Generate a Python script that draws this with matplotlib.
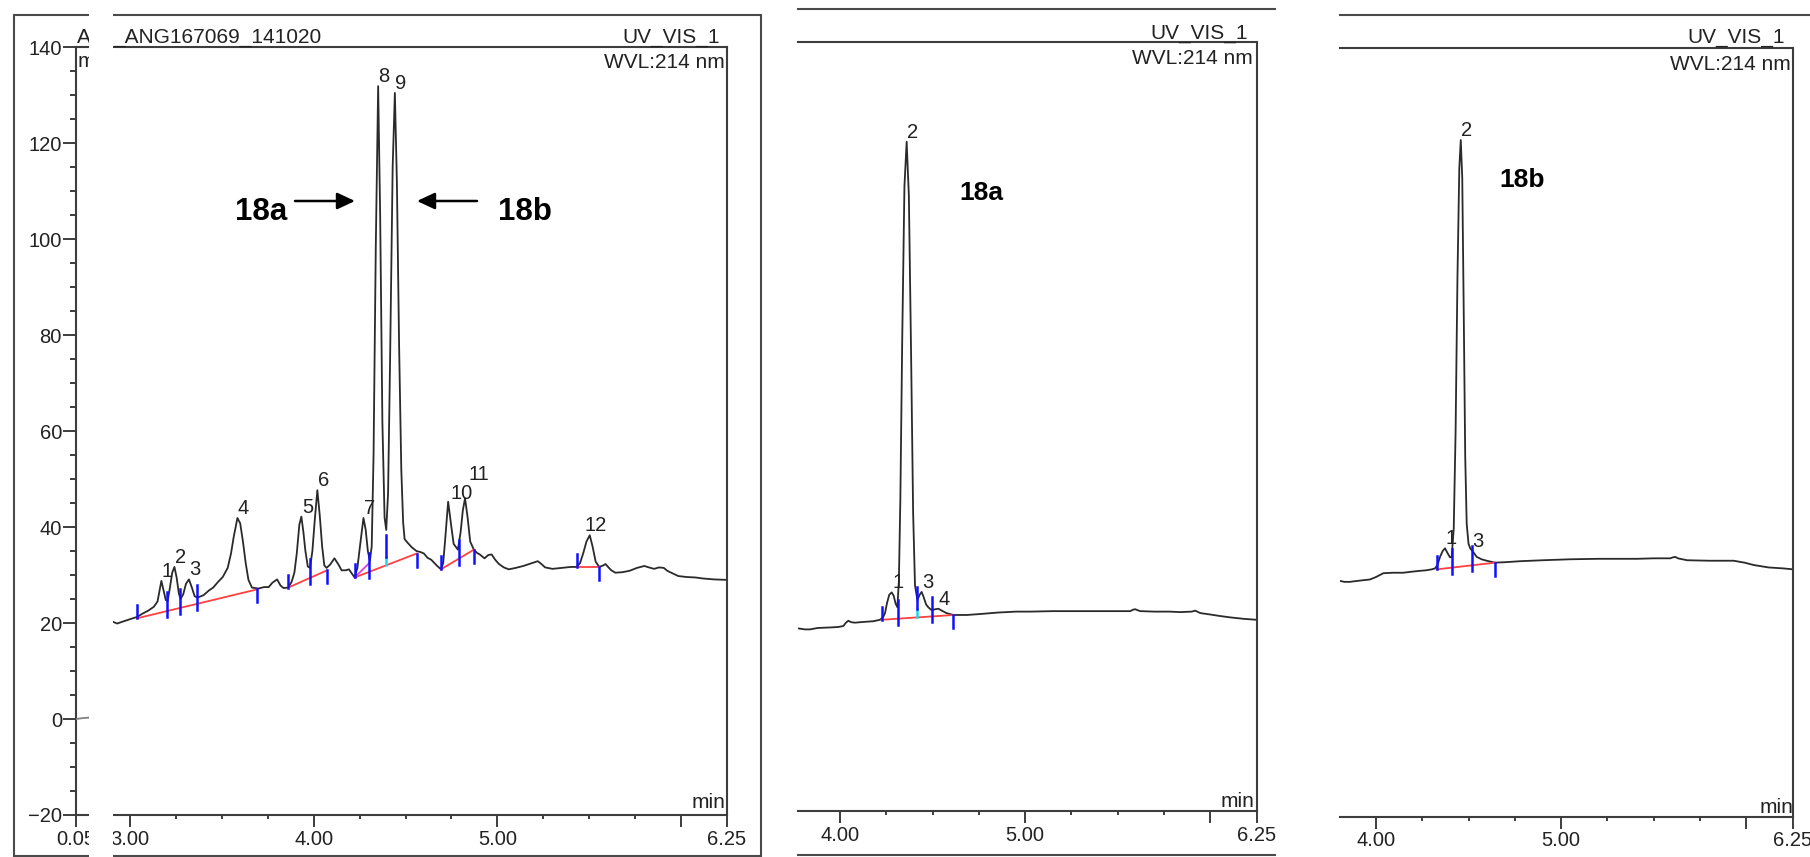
import numpy as np
import matplotlib
matplotlib.use("Agg")
import matplotlib.pyplot as plt
from matplotlib.patches import Rectangle
from matplotlib.lines import Line2D
from matplotlib.transforms import Bbox, TransformedBbox

plt.rcParams['font.family'] = ['Liberation Sans', 'DejaVu Sans']

# ---------------- data ----------------
# Mixture run (18a + 18b), retention time [min] vs absorbance [mAU]
mix_t = [2.906, 2.93, 2.96, 3.00, 3.04, 3.07, 3.10, 3.13, 3.15, 3.160, 3.171, 3.183, 3.195,
         3.205, 3.218, 3.230, 3.242, 3.254, 3.266, 3.275, 3.290, 3.305, 3.321, 3.337, 3.352,
         3.367, 3.40, 3.43, 3.453, 3.48, 3.505, 3.532, 3.55, 3.565, 3.585, 3.60, 3.615, 3.630,
         3.645, 3.664, 3.70, 3.730, 3.755, 3.775, 3.801, 3.820, 3.836, 3.862, 3.880, 3.895,
         3.908, 3.922, 3.933, 3.944, 3.955, 3.968, 3.980, 3.993, 4.005, 4.020, 4.033, 4.046,
         4.058, 4.070, 4.090, 4.113, 4.135, 4.152, 4.175, 4.192, 4.210, 4.223, 4.238, 4.252,
         4.271, 4.283, 4.295, 4.306, 4.316, 4.326, 4.338, 4.351, 4.362, 4.374, 4.386, 4.395,
         4.405, 4.416, 4.430, 4.442, 4.453, 4.465, 4.477, 4.487, 4.495, 4.51, 4.534, 4.56,
         4.582, 4.60, 4.62, 4.64, 4.67, 4.693, 4.705, 4.715, 4.732, 4.748, 4.762, 4.785,
         4.800, 4.812, 4.824, 4.838, 4.852, 4.872, 4.89, 4.904, 4.93, 4.951, 4.969, 4.988,
         5.009, 5.035, 5.062, 5.10, 5.141, 5.18, 5.22, 5.24, 5.26, 5.30, 5.353, 5.40, 5.431,
         5.45, 5.467, 5.485, 5.503, 5.518, 5.535, 5.555, 5.575, 5.589, 5.605, 5.62, 5.642,
         5.68, 5.72, 5.76, 5.80, 5.825, 5.853, 5.88, 5.906, 5.925, 5.946, 5.985, 6.03, 6.08,
         6.117, 6.18, 6.25]
mix_v = [20.3, 19.9, 20.3, 20.8, 21.3, 22.0, 22.6, 23.4, 24.5, 26.5, 28.8, 26.8, 24.8,
         24.6, 27.5, 30.5, 31.7, 29.5, 26.2, 25.0, 26.0, 28.2, 29.1, 27.4, 25.6,
         25.3, 25.8, 26.8, 27.4, 28.6, 29.6, 31.5, 34.5, 38.0, 41.9, 40.8, 37.0, 32.5,
         29.0, 27.4, 27.2, 27.5, 27.5, 28.4, 29.1, 27.8, 27.3, 27.4, 28.6, 30.5,
         34.5, 40.5, 42.2, 39.0, 35.0, 31.8, 31.5, 35.0, 41.0, 47.7, 42.5, 36.0,
         32.0, 31.5, 32.2, 33.5, 32.2, 31.0, 31.0, 31.2, 30.2, 29.5, 31.5, 36.0,
         41.9, 39.5, 35.0, 33.0, 36.0, 55.0, 98.0, 131.9, 105.0, 62.0, 42.0, 39.4,
         47.0, 75.0, 115.0, 130.5, 112.0, 78.0, 52.0, 41.0, 37.5, 36.8, 35.8, 35.0,
         34.8, 34.5, 33.6, 33.2, 32.0, 31.2, 32.5, 37.0, 45.3, 40.5, 36.5, 35.3,
         39.0, 43.5, 46.0, 42.0, 37.0, 35.3, 34.6, 34.3, 33.5, 34.2, 34.3, 33.2,
         32.3, 31.6, 31.2, 31.5, 31.9, 32.4, 32.9, 32.3, 31.6, 31.3, 31.5, 31.7, 31.7,
         32.5, 34.5, 37.0, 38.3, 36.0, 32.8, 31.7, 32.0, 32.3, 31.6, 31.0, 30.5,
         30.6, 30.9, 31.5, 31.9, 31.6, 31.3, 31.6, 31.5, 30.9, 30.5, 29.8, 29.6, 29.5,
         29.3, 29.1, 29.0]
# start of the same run, before the cut in the time axis
mix_start_t = [0.05, 0.12, 0.18]
mix_start_v = [0.0, 0.2, 0.3]
mix_peak_t = [3.171, 3.242, 3.321, 3.585, 3.933, 4.020, 4.271, 4.351, 4.442, 4.732, 4.824, 5.503]
mix_peak_no = ['1', '2', '3', '4', '5', '6', '7', '8', '9', '10', '11', '12']
mix_base_t = [[3.039, 3.203, 3.275, 3.367, 3.690],
              [3.862, 3.980, 4.073],
              [4.223, 4.302, 4.395, 4.561],
              [4.693, 4.789, 4.872],
              [5.431, 5.555]]
mix_base_v = [[21.0, 27.0], [27.4, 31.0], [29.5, 34.5], [31.2, 35.3], [31.7, 31.7]]
mix_sub_base = [4.223, 29.5, 4.302, 32.5]
mix_split_t = [4.395]

# Isolated 18a
a_t = [3.775, 3.81, 3.838, 3.88, 3.946, 3.99, 4.018, 4.032, 4.045, 4.060, 4.081, 4.11,
       4.144, 4.18, 4.216, 4.232, 4.243, 4.254, 4.266, 4.279, 4.290, 4.300, 4.310, 4.318,
       4.326, 4.336, 4.348, 4.360, 4.372, 4.384, 4.395, 4.405, 4.418, 4.430, 4.441, 4.452,
       4.465, 4.477, 4.495, 4.515, 4.532, 4.55, 4.575, 4.613, 4.685, 4.757, 4.85, 4.95,
       5.027, 5.15, 5.297, 5.40, 5.477, 5.568, 5.583, 5.595, 5.607, 5.622, 5.70, 5.78,
       5.838, 5.90, 5.919, 5.946, 6.00, 6.05, 6.108, 6.18, 6.25]
a_v = [18.0, 17.8, 17.8, 18.1, 18.2, 18.3, 18.5, 19.2, 19.6, 19.3, 19.2, 19.3,
       19.4, 19.5, 19.8, 20.3, 21.2, 23.3, 25.0, 25.5, 24.8, 23.2, 22.4, 28.0,
       45.0, 78.0, 110.0, 119.3, 108.0, 75.0, 42.0, 27.0, 23.9, 25.0, 25.6, 24.5,
       23.0, 22.4, 21.8, 22.0, 22.1, 21.7, 21.2, 20.8, 20.8, 21.0, 21.3, 21.5,
       21.5, 21.6, 21.6, 21.6, 21.6, 21.6, 21.9, 22.0, 21.8, 21.6, 21.5, 21.5,
       21.4, 21.5, 21.7, 21.2, 20.9, 20.6, 20.3, 20.0, 19.8]
a_peak_t = [4.279, 4.360, 4.441, 4.532]
a_peak_no = ['1', '2', '3', '4']
a_base_t = [[4.225, 4.315, 4.418, 4.496, 4.613]]
a_base_v = [[19.8, 20.8]]
a_split_t = [4.418]

# Isolated 18b
b_t = [3.805, 3.83, 3.859, 3.90, 3.968, 4.00, 4.040, 4.09, 4.148, 4.19, 4.238, 4.27,
       4.301, 4.319, 4.333, 4.346, 4.360, 4.373, 4.385, 4.400, 4.409, 4.420, 4.430, 4.440,
       4.450, 4.458, 4.466, 4.474, 4.482, 4.490, 4.500, 4.510, 4.520, 4.544, 4.570, 4.598,
       4.643, 4.70, 4.778, 4.90, 5.049, 5.20, 5.409, 5.50, 5.589, 5.603, 5.616, 5.630,
       5.68, 5.80, 5.931, 5.99, 6.04, 6.12, 6.20, 6.253]
b_v = [29.1, 28.9, 28.9, 29.1, 29.4, 29.9, 30.7, 30.8, 30.8, 31.0, 31.2, 31.3,
       31.5, 31.7, 32.5, 34.1, 35.3, 35.9, 35.0, 34.0, 34.1, 40.0, 60.0, 92.0,
       115.0, 120.9, 113.0, 85.0, 55.0, 41.0, 36.8, 35.8, 35.4, 34.1, 33.6, 33.3,
       32.9, 33.0, 33.2, 33.4, 33.6, 33.7, 33.7, 33.8, 33.8, 34.0, 34.1, 33.8,
       33.4, 33.3, 33.3, 32.9, 32.4, 31.9, 31.7, 31.5]
b_peak_t = [4.373, 4.458, 4.520]
b_peak_no = ['1', '2', '3']
b_base_t = [[4.328, 4.413, 4.521, 4.643]]
b_base_v = [[31.5, 32.9]]

y_ticks = [-20, 0, 20, 40, 60, 80, 100, 120, 140]

# ---------------- drawing ----------------
W, H, DPI = 1810, 857, 100
fig = plt.figure(figsize=(W / DPI, H / DPI), dpi=DPI)
fig.patch.set_facecolor('white')

TRACE = '#2a2a2a'
FRAME = '#3d3d3d'
RED = '#ff4040'
BLUE = '#1010ff'
CYAN = '#20d8e8'
MAGENTA = '#e040e0'
TXT = '#222222'
FS = 14.5


def rect(x0, y0, x1, y1):
    return [x0 / W, 1 - y1 / H, (x1 - x0) / W, (y1 - y0) / H]


def fx(x):
    return x / W


def fy(y):
    return 1 - y / H


def style(ax, left, majors, labels, minors):
    ax.set_ylim(-20, 140)
    for side in ('top', 'right', 'bottom', 'left'):
        ax.spines[side].set_color(FRAME)
        ax.spines[side].set_linewidth(1.5)
    ax.spines['left'].set_visible(left)
    ax.set_xticks(majors)
    ax.set_xticklabels(labels)
    ax.set_xticks(minors, minor=True)
    ax.tick_params(axis='x', which='major', direction='out', length=8.6, width=1.4,
                   pad=2.0, labelsize=FS, color=FRAME, labelcolor=TXT)
    ax.tick_params(axis='x', which='minor', direction='out', length=3.2, width=1.4,
                   color=FRAME)
    if left:
        ax.set_yticks(y_ticks)
        ax.set_yticks([v for v in range(-20, 141, 5) if v % 20], minor=True)
        ax.tick_params(axis='y', which='major', direction='out', length=9.1, width=1.4,
                       pad=0.8, labelsize=FS, color=FRAME, labelcolor=TXT)
        ax.tick_params(axis='y', which='minor', direction='out', length=4.1, width=1.4,
                       color=FRAME)
    else:
        ax.tick_params(axis='y', which='both', left=False, labelleft=False)


def integration(ax, seg_t, seg_v, split_t=(), sub=None):
    ppu = ax.bbox.height / 160.0
    for ts, (va, vb) in zip(seg_t, seg_v):
        t0, t1 = ts[0], ts[-1]
        ax.plot([t0, t1], [va, vb], color=RED, lw=1.3, zorder=3)
        for i, t in enumerate(ts):
            b = va + (vb - va) * (t - t0) / (t1 - t0)
            if any(abs(t - s) < 1e-9 for s in split_t):
                ax.plot([t, t], [b, b + 8 / ppu], color=CYAN, lw=1.8, zorder=4)
                ax.plot([t, t], [b + 8 / ppu, b + 30 / ppu], color=BLUE, lw=1.8, zorder=4)
                continue
            if i == 0:
                lo, hi = 0, 13
            elif i == len(ts) - 1:
                lo, hi = -13, 0
            else:
                lo, hi = -6, 19
            ax.plot([t, t], [b + lo / ppu, b + hi / ppu], color=BLUE, lw=1.8, zorder=4)
    if sub is not None:
        ax.plot([sub[0], sub[2]], [sub[1], sub[3]], color=MAGENTA, lw=1.3, zorder=3)


def peak_labels(ax, tr_t, tr_v, pk_t, pk_no, offsets=None):
    offsets = offsets or {}
    for t, n in zip(pk_t, pk_no):
        v = np.interp(t, tr_t, tr_v)
        dx, dy = offsets.get(n, (6, 4))
        ax.annotate(n, xy=(t, v), xytext=(dx, dy), textcoords='offset pixels',
                    ha='center', va='baseline', fontsize=FS, color=TXT, zorder=5)


minor_steps = [4.25, 4.5, 4.75, 5.25, 5.5, 5.75]

# --- panel 1: mixture ---
ax1 = fig.add_axes(rect(75.7, 47.3, 727, 815))
ax1.set_xlim(2.7046, 6.25)
style(ax1, True, [3, 4, 5, 6, 6.25], ['3.00', '4.00', '5.00', '', '6.25'],
      [3.25, 3.5, 3.75] + minor_steps)
ax1.plot(mix_t, mix_v, color=TRACE, lw=1.3, zorder=2)
integration(ax1, mix_base_t, mix_base_v, mix_split_t, mix_sub_base)
peak_labels(ax1, mix_t, mix_v, mix_peak_t, mix_peak_no,
            {'10': (13, 3), '11': (14, 18)})

ax0 = fig.add_axes(rect(75.7, 47.3, 89, 815))
ax0.patch.set_visible(False)
ax0.set_xlim(0.05, 0.177)
ax0.set_ylim(-20, 140)
for side in ax0.spines.values():
    side.set_visible(False)
ax0.plot(mix_start_t, mix_start_v, color='#808080', lw=1.3)
ax0.set_xticks([0.05])
ax0.set_xticklabels(['0.05'])
ax0.tick_params(axis='x', direction='out', length=8.6, width=1.4, pad=2.0,
                labelsize=FS, color=FRAME, labelcolor=TXT)
ax0.tick_params(axis='y', left=False, labelleft=False)

fig.add_artist(Rectangle((fx(14), fy(856)), (761 - 14) / W, (856 - 15) / H, fill=False,
                         lw=1.5, ec='#4a4a4a', transform=fig.transFigure, zorder=1))

# header texts of the mixture panel; the part under the time-axis cut is hidden
cut_clip = TransformedBbox(Bbox([[0, 0], [89 / W, 1]]), fig.transFigure)
for x, y, s in [(77, 43, 'A'), (78, 67, 'mAU')]:
    t_ = fig.text(fx(x), fy(y), s, ha='left', va='baseline', fontsize=15, color=TXT, zorder=5)
    t_.set_clip_box(cut_clip)
    t_.set_clip_on(True)
fig.text(fx(113.3), fy(43), '_ANG167069_141020', ha='left', va='baseline', fontsize=15,
         color=TXT, zorder=5)
fig.text(fx(720), fy(43), 'UV_VIS_1', ha='right', va='baseline', fontsize=15, color=TXT)
fig.text(fx(725), fy(68), 'WVL:214 nm', ha='right', va='baseline', fontsize=15, color=TXT)
fig.text(fx(725), fy(808), 'min', ha='right', va='baseline', fontsize=15, color=TXT)
fig.add_artist(Rectangle((fx(89), 0), (112.7 - 89) / W, 1, fc='white', ec='none',
                         transform=fig.transFigure, zorder=10))

arrow = dict(arrowstyle='-|>,head_length=0.6,head_width=0.28', mutation_scale=18,
             lw=1.8, color='black', shrinkA=0, shrinkB=0)
ax1.annotate('', xy=(355, H - 201), xytext=(295, H - 201), xycoords='figure pixels',
             textcoords='figure pixels', arrowprops=arrow)
ax1.annotate('', xy=(417, H - 201), xytext=(477, H - 201), xycoords='figure pixels',
             textcoords='figure pixels', arrowprops=arrow)
fig.text(fx(261), fy(220), '18a', ha='center', va='baseline', fontsize=22.5,
         fontweight='bold', color='black')
fig.text(fx(525), fy(220), '18b', ha='center', va='baseline', fontsize=22.5,
         fontweight='bold', color='black')

# --- panel 2: 18a ---
ax2 = fig.add_axes(rect(798, 42.3, 1256.5, 811))
ax2.set_xlim(3.773, 6.25)
style(ax2, False, [4, 5, 6, 6.25], ['4.00', '5.00', '', '6.25'], minor_steps)
ax2.plot(a_t, a_v, color=TRACE, lw=1.3, zorder=2)
integration(ax2, a_base_t, a_base_v, a_split_t)
peak_labels(ax2, a_t, a_v, a_peak_t, a_peak_no)
fig.add_artist(Line2D([fx(798), fx(1275)], [fy(9.3)] * 2, color='#4a4a4a', lw=1.5,
                      transform=fig.transFigure))
fig.add_artist(Line2D([fx(798), fx(1275)], [fy(855)] * 2, color='#4a4a4a', lw=1.5,
                      transform=fig.transFigure))
fig.text(fx(1248), fy(39), 'UV_VIS_1', ha='right', va='baseline', fontsize=15, color=TXT)
fig.text(fx(1253), fy(64), 'WVL:214 nm', ha='right', va='baseline', fontsize=15, color=TXT)
fig.text(fx(1254), fy(807), 'min', ha='right', va='baseline', fontsize=15, color=TXT)
fig.text(fx(981), fy(200), '18a', ha='center', va='baseline', fontsize=19,
         fontweight='bold', color='black')

# --- panel 3: 18b ---
ax3 = fig.add_axes(rect(1340, 48.3, 1792.7, 816.7))
ax3.set_xlim(3.806, 6.25)
style(ax3, False, [4, 5, 6, 6.25], ['4.00', '5.00', '', '6.25'], minor_steps)
ax3.plot(b_t, b_v, color=TRACE, lw=1.3, zorder=2)
integration(ax3, b_base_t, b_base_v)
peak_labels(ax3, b_t, b_v, b_peak_t, b_peak_no)
fig.add_artist(Line2D([fx(1340), fx(1810)], [fy(15)] * 2, color='#4a4a4a', lw=1.5,
                      transform=fig.transFigure))
fig.text(fx(1785), fy(43), 'UV_VIS_1', ha='right', va='baseline', fontsize=15, color=TXT)
fig.text(fx(1791), fy(70), 'WVL:214 nm', ha='right', va='baseline', fontsize=15, color=TXT)
fig.text(fx(1793), fy(813), 'min', ha='right', va='baseline', fontsize=15, color=TXT)
fig.text(fx(1522), fy(187), '18b', ha='center', va='baseline', fontsize=19,
         fontweight='bold', color='black')

fig.savefig('out.png', dpi=DPI, facecolor='white')
